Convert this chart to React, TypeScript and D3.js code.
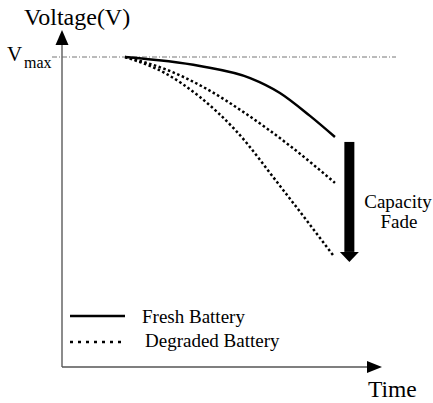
import React from "react";
import * as d3 from "d3";

// Data (time, normalized voltage where 1 = Vmax)
const freshTime = [1.97, 4.31, 5.88, 6.81, 7.75, 8.53];
const freshVolt = [1.0, 0.971, 0.932, 0.884, 0.81, 0.742];
const degraded1Time = [1.97, 3.22, 4.47, 5.72, 7.13, 8.53];
const degraded1Volt = [1.0, 0.961, 0.9, 0.819, 0.713, 0.594];
const degraded2Time = [1.97, 3.22, 4.31, 5.41, 6.91, 8.47];
const degraded2Volt = [1.0, 0.948, 0.871, 0.765, 0.571, 0.361];
const vmaxValue = 1.0;
const fadeTop = 0.726;
const fadeBottom = 0.339;
const fadeTime = 8.98;

const W = 433;
const H = 403;
const FONT = "'Liberation Serif', 'Times New Roman', Times, serif";

export default function App() {
  const x = d3.scaleLinear().domain([0, 10]).range([62, 382]);
  const y = d3.scaleLinear().domain([0, 1]).range([367, 57]);

  const line = d3
    .line<[number, number]>()
    .x((d) => x(d[0]))
    .y((d) => y(d[1]))
    .curve(d3.curveMonotoneX);

  const zip = (a: number[], b: number[]) => a.map((t, i) => [t, b[i]] as [number, number]);

  const fresh = line(zip(freshTime, freshVolt)) || "";
  const deg1 = line(zip(degraded1Time, degraded1Volt)) || "";
  const deg2 = line(zip(degraded2Time, degraded2Volt)) || "";

  const ax0 = x(0);
  const ay0 = y(0);
  const fx = x(fadeTime);
  const fTop = y(fadeTop);
  const fBot = y(fadeBottom);

  return (
    <svg
      width={W}
      height={H}
      style={{ position: "absolute", left: 0, top: 0, background: "#fff" }}
    >
      <rect x={0} y={0} width={W} height={H} fill="#fff" />
      {/* Vmax reference line */}
      <line
        x1={52}
        x2={396}
        y1={y(vmaxValue)}
        y2={y(vmaxValue)}
        stroke="#777"
        strokeWidth={1}
        strokeDasharray="5,2,1,2"
      />
      {/* axes */}
      <line x1={ax0} x2={ax0} y1={ay0} y2={42} stroke="#666" strokeWidth={1.5} />
      <path d={`M${ax0},30 L${ax0 - 6.5},45 L${ax0 + 6.5},45 Z`} fill="#000" />
      <line x1={ax0} x2={368} y1={ay0} y2={ay0} stroke="#555" strokeWidth={1.5} />
      <path d={`M382,${ay0} L367,${ay0 - 6} L367,${ay0 + 6} Z`} fill="#000" />

      {/* curves */}
      <path d={fresh} fill="none" stroke="#000" strokeWidth={2.5} />
      <path d={deg1} fill="none" stroke="#000" strokeWidth={2.5} strokeDasharray="2.5,2.5" />
      <path d={deg2} fill="none" stroke="#000" strokeWidth={2.5} strokeDasharray="2.5,2.5" />

      {/* capacity fade arrow */}
      <rect x={fx - 5} y={fTop} width={10} height={fBot - 10 - fTop} fill="#000" />
      <path d={`M${fx - 9.5},${fBot - 10} L${fx + 9.5},${fBot - 10} L${fx},${fBot} Z`} fill="#000" />
      <text x={398} y={208} fontFamily={FONT} fontSize={19} textAnchor="middle" fill="#000">
        Capacity
      </text>
      <text x={399} y={228} fontFamily={FONT} fontSize={19} textAnchor="middle" fill="#000">
        Fade
      </text>

      {/* axis labels */}
      <text x={24} y={25} fontFamily={FONT} fontSize={24} fill="#000">
        Voltage(V)
      </text>
      <text x={7} y={61} fontFamily={FONT} fontSize={21} fill="#000">
        V
      </text>
      <text x={24} y={68} fontFamily={FONT} fontSize={16} fill="#000">
        max
      </text>
      <text x={368} y={397} fontFamily={FONT} fontSize={23.5} fill="#000">
        Time
      </text>

      {/* legend */}
      <line x1={70} x2={125} y1={316} y2={316} stroke="#000" strokeWidth={2.5} />
      <text x={142} y={323} fontFamily={FONT} fontSize={19} fill="#000">
        Fresh Battery
      </text>
      <line x1={70} x2={125} y1={342} y2={342} stroke="#000" strokeWidth={2.5} strokeDasharray="3,5" />
      <text x={145} y={347} fontFamily={FONT} fontSize={19} fill="#000">
        Degraded Battery
      </text>
    </svg>
  );
}
